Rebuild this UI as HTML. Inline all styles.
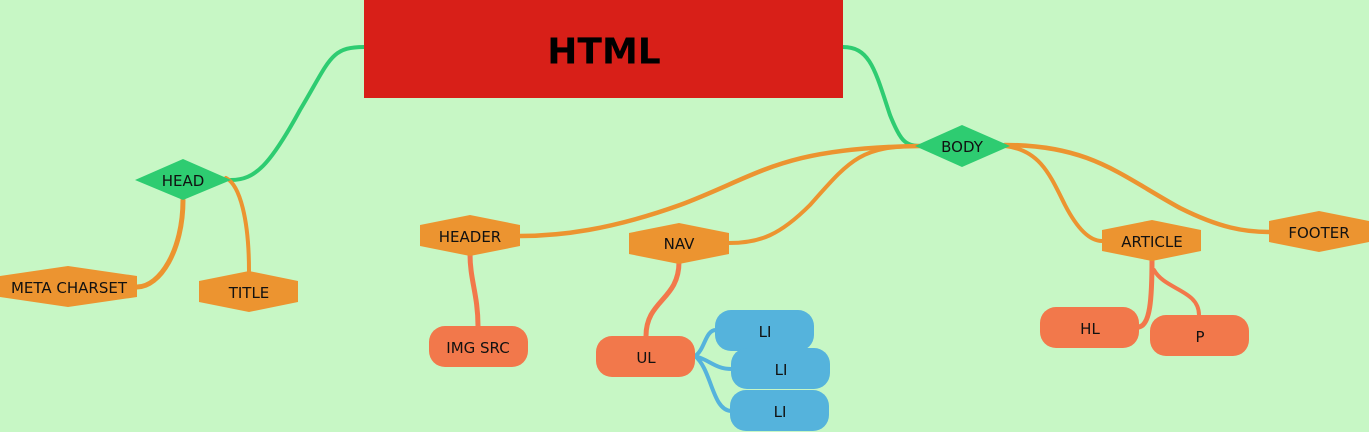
<!DOCTYPE html>
<html><head><meta charset="utf-8"><style>
html,body{margin:0;padding:0;background:#c7f7c5;}
svg{display:block}
text{font-family:"DejaVu Sans","Liberation Sans",sans-serif;font-size:15px;fill:#111;text-anchor:middle;dominant-baseline:central}
</style></head><body>
<svg width="1369" height="432" viewBox="0 0 1369 432" xmlns="http://www.w3.org/2000/svg">
<rect width="1369" height="432" fill="#c7f7c5"/>
<g fill="none" stroke-linecap="round">
<path d="M364,47 C330,47 330,60 300,110 C270,165 255,180 231,180" stroke="#2ecc71" stroke-width="4"/>
<path d="M843,47 C870,47 875,70 890,115 C900,140 905,146 920,146" stroke="#2ecc71" stroke-width="4"/>
<g stroke="#ec9430">
<path d="M183,200 C183,250 160,287 137,287" stroke-width="5"/>
<path d="M226,178 C240,185 249,220 249,271" stroke-width="4"/>
<path d="M920,146 C780,148 760,175 680,205 C610,230 560,236 520,236" stroke-width="4.5"/>
<path d="M920,146 C860,146 850,160 810,205 C780,235 760,243 729,243" stroke-width="4"/>
<path d="M1005,146 C1040,150 1050,175 1065,205 C1078,230 1090,241 1102,241" stroke-width="4"/>
<path d="M1005,145 C1090,145 1120,175 1180,208 C1220,228 1245,232 1269,232" stroke-width="4.5"/>
</g>
<g stroke="#f2784b">
<path d="M470,254 C470,280 478,295 478,326" stroke-width="5"/>
<path d="M679,262 C679,300 646,300 646,336" stroke-width="5"/>
<path d="M1152,259 C1152,300 1150,325 1139,327" stroke-width="5"/>
<path d="M1154,270 C1165,290 1199,290 1199,315" stroke-width="4"/>
</g>
<g stroke="#55b3dc" stroke-width="4">
<path d="M695,356 C705,350 705,330 716,330"/>
<path d="M695,356 C710,360 715,369 732,369"/>
<path d="M695,356 C712,370 712,410 731,411"/>
</g>
</g>
<rect x="364" y="0" width="479" height="98" fill="#d81f18"/>
<text x="604" y="52" style="font-size:36px;font-weight:bold;fill:#000">HTML</text>
<polygon points="135,180 183,159 231,180 183,200" fill="#2ecc71"/>
<text x="183" y="181">HEAD</text>
<polygon points="915,146 962,125 1010,146 962,167" fill="#2ecc71"/>
<text x="962" y="147">BODY</text>
<g fill="#ec9430">
<polygon points="0,276 68,266 137,276 137,297 68,307 0,297"/>
<polygon points="199,281 249,271 298,281 298,302 249,312 199,302"/>
<polygon points="420,225 470,215 520,225 520,246 470,256 420,246"/>
<polygon points="629,233 679,223 729,233 729,254 679,264 629,254"/>
<polygon points="1102,230 1152,220 1201,230 1201,251 1152,261 1102,251"/>
<polygon points="1269,221 1319,211 1369,221 1369,242 1319,252 1269,242"/>
</g>
<text x="69" y="288">META CHARSET</text>
<text x="249" y="293">TITLE</text>
<text x="470" y="237">HEADER</text>
<text x="679" y="244">NAV</text>
<text x="1152" y="242">ARTICLE</text>
<text x="1319" y="233">FOOTER</text>
<g fill="#f2784b">
<rect x="429" y="326" width="99" height="41" rx="16"/>
<rect x="596" y="336" width="99" height="41" rx="16"/>
<rect x="1040" y="307" width="99" height="41" rx="16"/>
<rect x="1150" y="315" width="99" height="41" rx="16"/>
</g>
<text x="478" y="348">IMG SRC</text>
<text x="646" y="358">UL</text>
<text x="1090" y="329">HL</text>
<text x="1200" y="337">P</text>
<g fill="#55b3dc">
<rect x="715" y="310" width="99" height="41" rx="16"/>
<rect x="731" y="348" width="99" height="41" rx="16"/>
<rect x="730" y="390" width="99" height="41" rx="16"/>
</g>
<text x="765" y="332">LI</text>
<text x="781" y="370">LI</text>
<text x="780" y="412">LI</text>
</svg>
</body></html>
